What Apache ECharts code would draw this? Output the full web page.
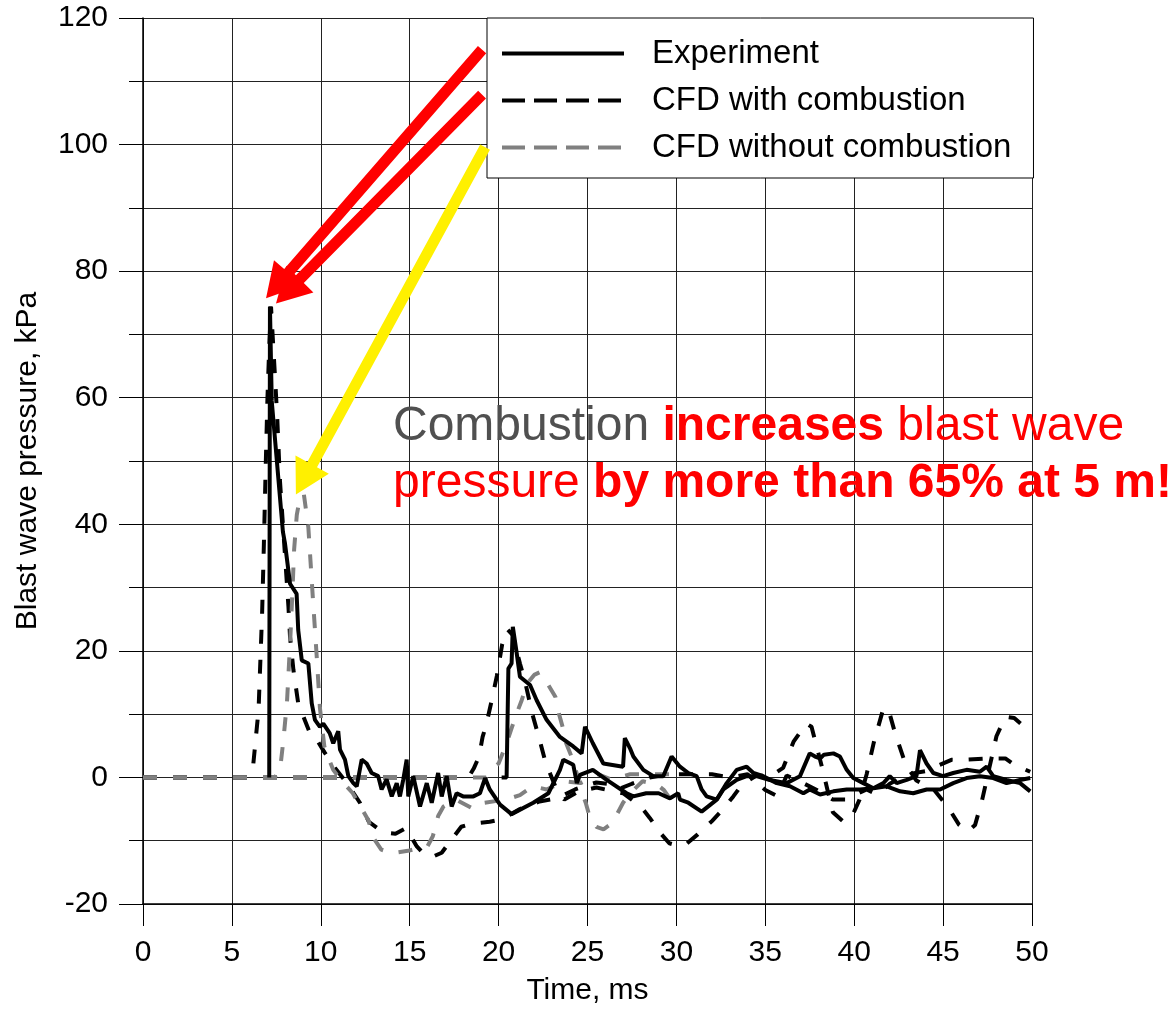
<!DOCTYPE html>
<html><head><meta charset="utf-8">
<script src="https://cdn.jsdelivr.net/npm/echarts@6/dist/echarts.min.js"></script>
<style>html,body{margin:0;padding:0;background:#fff;overflow:hidden}#c{width:1174px;height:1011px}</style>
</head><body><div id="c"></div>
<script>
// ---- data (time ms, pressure kPa) ----
const expNear = [[7.1,0],[7.14,74.4],[7.24,59.5],[7.87,38.8],[7.99,36.9],[8.27,30.6],[8.64,29],[8.73,23.3],[8.93,18.5],[9.3,18],[9.49,11.7],[9.67,9.1],[9.95,8],[10.14,8.5],[10.5,7],[10.7,5.4],[10.98,7.3],[11.08,4.4],[11.36,2.8],[11.55,0.2],[11.83,-0.9],[12.02,-1.4],[12.3,2.8],[12.58,2.2],[12.86,0.7],[13.23,0.2],[13.42,-1.9],[13.7,-0.3],[13.99,-3],[14.27,-0.9],[14.45,-3],[14.64,-0.3],[14.83,2.8],[14.92,-3],[15.2,0.2],[15.58,-4.6],[15.96,-0.9],[16.24,-4],[16.6,0.7],[16.8,-3],[17.08,0.2],[17.36,-4.6],[17.64,-2.5],[18.0,-3],[18.58,-3],[18.95,-2.5],[19.24,-0.1],[19.5,-1.9],[20.08,-4.3],[20.73,-5.8],[21.95,-4],[22.8,-2.5],[23.45,1.2],[23.64,2.8],[24.2,2.0],[24.4,-0.9],[24.58,0.4],[25.3,1.2],[26.08,-0.4],[27.2,-2.5],[27.58,-3],[28.3,-2.5],[29.0,-2.5],[29.64,-3.3],[30.1,-2.5],[30.2,-3.5],[30.67,-4],[31.42,-5.4],[32.27,-3.5],[32.64,-1.9],[33.39,-0.4],[33.95,0.2],[34.5,0.2],[35.26,-0.4],[36.2,-0.9],[36.95,0.2],[37.5,3.8],[37.8,3.3],[38.08,3.0],[38.3,3.6],[38.83,3.8],[39.2,3.3],[39.58,1.2],[39.95,-0.1],[40.51,-0.9],[41.08,-1.7],[41.64,-0.9],[42.0,0.2],[42.39,-0.9],[42.95,-0.4],[43.5,0.2],[43.7,4.3],[44.07,2.2],[44.45,0.7],[45.0,0.2],[45.57,0.7],[46.32,1.2],[47.07,0.9],[47.45,1.7],[47.82,0.2],[48.57,-0.4],[49.33,-0.9],[49.9,-2.2]];
const expFar = [[20.17,0],[20.45,0],[20.55,17.2],[20.73,18],[20.8,23.8],[21.0,20],[21.2,15.9],[21.77,14.6],[22.14,12.2],[22.7,9.1],[23.45,6.4],[24.2,4.9],[24.67,3.8],[24.86,8],[25.3,5.4],[25.89,2.2],[27.0,1.7],[27.1,6.2],[27.39,4.6],[27.58,3.3],[28.14,1.2],[28.7,0.2],[29.26,0.2],[29.73,3.3],[30.2,1.7],[30.67,0.7],[31.14,0.2],[31.42,-1.9],[31.7,-3],[32.27,-3.5],[32.83,-0.9],[33.39,1.2],[33.95,1.7],[34.33,0.7],[34.89,0.2],[35.64,-0.9],[36.39,-1.4],[37.14,-2.5],[37.5,-1.9],[38.08,-2.7],[38.83,-2.2],[39.58,-1.9],[40.33,-1.9],[41.08,-1.7],[41.83,-1.4],[42.58,-2.2],[43.32,-2.5],[44.07,-1.9],[44.83,-1.9],[45.57,-0.9],[46.32,-0.1],[47.07,0.2],[47.82,-0.1],[48.57,-0.9],[49.33,-0.4],[49.9,-0.1]];
const combNear = [[0,0],[5.9,0],[6.2,2],[6.5,10.7],[6.7,26],[6.8,37],[6.9,49],[7.0,60],[7.1,68],[7.2,74.4],[7.45,62],[7.55,56.8],[7.7,47],[8.18,27],[8.27,22.2],[8.46,17],[8.73,11.7],[9.39,7.0],[9.7,6.3],[10.2,4],[10.8,1.5],[11.5,-1],[12.2,-4],[12.7,-7],[13.5,-8.7],[14.2,-8.9],[14.8,-8],[15.4,-10.9],[15.9,-12.4],[16.4,-12.4],[16.8,-11.9],[17.2,-10.4],[17.9,-7.8],[18.5,-7.3],[19.5,-7],[20.2,-6.6],[21.2,-5],[22.3,-3.8],[23.3,-3.3],[24.3,-1.9],[24.8,-1.4],[25.5,-0.8],[26.1,-1],[26.7,-1.9],[27.5,-1],[28.5,0],[29.5,0.5],[31,0.5],[32,0.5],[33,0],[34,0.5],[35,-2],[35.7,-3],[36.2,0.3],[37.2,-1],[37.9,-2],[38.8,-3.5],[39.5,-3.5],[40.7,-1.9],[41.3,-2.7],[42,-1],[43,0.5],[44,1],[45.5,2.8],[46.2,2.8],[47.7,3],[48.5,3],[49,2],[49.9,0.9]];
const combFar = [[0,0],[18.3,0],[18.6,1.4],[18.9,3.3],[19.1,6.4],[19.3,8.3],[19.6,12],[19.9,16],[20.2,21],[20.5,23.4],[20.8,22.5],[21.2,18],[21.5,15],[21.9,10],[22.3,6],[22.6,2.8],[22.9,0.6],[23.3,-2.2],[23.7,-3.5],[24.5,-2.2],[25.5,-1.6],[27,-2.5],[28,-4.6],[28.5,-6.4],[29.1,-8.8],[29.6,-10.4],[30.1,-10.8],[30.6,-10.4],[31.2,-9],[32,-6.9],[32.5,-5.4],[33.2,-3],[33.7,-1.1],[34.5,0.3],[35.3,0.2],[36.0,1.5],[36.6,5.7],[37.3,8.5],[37.6,8],[38.2,1.5],[38.8,-5.5],[39.4,-7],[39.9,-6],[40.3,-3.5],[40.7,0.5],[41.1,5.5],[41.6,10.5],[41.9,11],[42.3,7],[42.9,2],[43.5,-0.5],[44.5,-2],[45.3,-4.8],[45.9,-7.5],[46.4,-8.5],[46.8,-7.5],[47.2,-3.5],[47.6,1.5],[48.0,6.5],[48.5,9.6],[49.0,9.4],[49.4,8.4],[50,7.2]];
const noCombNear = [[0,0],[7.4,0],[7.7,1],[7.9,6],[8.1,12],[8.27,21],[8.4,29],[8.5,36],[8.65,41.5],[8.85,44.5],[9.05,44.7],[9.3,39.5],[9.55,28.5],[9.75,20],[9.95,11],[10.2,4.9],[10.4,3.3],[10.7,1.2],[11.1,-0.3],[11.8,-2.5],[12.7,-6.9],[12.9,-9.3],[13.4,-11.4],[14.0,-12],[14.9,-11.6],[15.5,-11.2],[16.0,-10.9],[16.3,-9.3],[16.6,-6.1],[16.9,-4.6],[17.6,-3.5],[18.6,-5],[19.2,-4],[20.4,-3.5],[21.2,-2.8],[21.9,-1.4],[22.7,-1.9],[23.7,-0.6],[24.6,-0.9],[25.6,0.5],[26.3,-0.3],[27.4,0.5],[28.4,0.5],[29.2,0.5],[29.9,0.5]];
const noCombFar = [[0,0],[19.3,0],[19.5,1],[20.0,2.2],[20.45,5.4],[20.7,7.5],[21.0,10],[21.3,12.2],[21.6,14.8],[22.0,16.2],[22.3,16.6],[22.8,14.6],[23.2,12.7],[23.4,10],[23.6,8],[23.8,5.4],[24.1,3.3],[24.4,0.6],[24.6,-1.7],[24.9,-4],[25.1,-6],[25.5,-7.8],[25.9,-8.2],[26.4,-7.2],[27.0,-4],[27.4,-2.5],[28.1,-0.6],[28.9,-1.1],[29.3,-2],[29.8,-4]];

const legendNames = ['Experiment','CFD with combustion','CFD without combustion'];
// annotation arrows in data units: [tailX, tailY, tipX, tipY]
const arrowsRed = [[19.07,115,6.92,75.7],[19.07,107.9,7.48,74.9]];
const arrowsYellow = [[19.24,99.6,8.6,44.7]];

const FONT = '"Liberation Sans", Arial, sans-serif';
const DASH = [14,16];
const chart = echarts.init(document.getElementById('c'), null, {renderer:'canvas'});

function line(name, data, color, dashed, z){
  return {name, type:'line', data, symbol:'none', showSymbol:false, z,
    lineStyle:{color, width:4, type: dashed ? DASH : 'solid'}, itemStyle:{color}, animation:false};
}
const noSym = {color:'rgba(0,0,0,0)', borderWidth:0, opacity:0};

chart.setOption({
  animation:false,
  backgroundColor:'#fff',
  grid:{left:143, right:142, top:18, bottom:103},
  legend:{
    data:[
      {name:legendNames[0], itemStyle:noSym, lineStyle:{width:4, type:'solid', color:'#000'}},
      {name:legendNames[1], itemStyle:noSym, lineStyle:{width:4, type:[23,9], color:'#000'}},
      {name:legendNames[2], itemStyle:noSym, lineStyle:{width:4, type:[23,9], color:'#808080'}}
    ],
    itemStyle:noSym,
    orient:'vertical', left:487, top:18, itemWidth:122, itemHeight:14, itemGap:14,
    padding:[19,22,14,13], backgroundColor:'#fff', borderColor:'#000', borderWidth:1,
    textStyle:{fontSize:33, fontFamily:FONT, color:'#000', padding:[0,0,0,23]},
    selectedMode:false, z:20
  },
  xAxis:{type:'value', min:0, max:50, interval:5,
    name:'Time, ms', nameLocation:'middle', nameGap:72,
    nameTextStyle:{fontSize:30, fontFamily:FONT, color:'#000'},
    axisLine:{onZero:false, lineStyle:{color:'#000', width:1.5}},
    axisTick:{length:22, lineStyle:{color:'#000', width:1}},
    axisLabel:{margin:34, fontSize:30, fontFamily:FONT, color:'#000'},
    splitLine:{show:true, lineStyle:{color:'#222', width:1}}
  },
  yAxis:{type:'value', min:-20, max:120, interval:20,
    name:'Blast wave pressure, kPa', nameLocation:'middle', nameGap:100,
    nameTextStyle:{fontSize:30, fontFamily:FONT, color:'#000'},
    axisLine:{onZero:false, lineStyle:{color:'#000', width:1.5}},
    axisTick:{length:24, lineStyle:{color:'#000', width:1}},
    minorTick:{show:true, splitNumber:2, length:14, lineStyle:{color:'#000', width:1}},
    minorSplitLine:{show:true, lineStyle:{color:'#222', width:1}},
    axisLabel:{margin:35, fontSize:30, fontFamily:FONT, color:'#000'},
    splitLine:{show:true, lineStyle:{color:'#222', width:1}}
  },
  series:[
    line('CFD with combustion', combNear, '#000', true, 2),
    line('CFD with combustion (far)', combFar, '#000', true, 2),
    line('CFD without combustion', noCombNear, '#808080', true, 3),
    line('CFD without combustion (far)', noCombFar, '#808080', true, 3),
    line('Experiment', expNear, '#000', false, 4),
    line('Experiment (far)', expFar, '#000', false, 4)
  ]
});

function arrowPoly(a, shaft, headL, headW){
  const p1 = chart.convertToPixel({gridIndex:0}, [a[0],a[1]]);
  const p2 = chart.convertToPixel({gridIndex:0}, [a[2],a[3]]);
  const dx=p2[0]-p1[0], dy=p2[1]-p1[1], L=Math.hypot(dx,dy);
  const ux=dx/L, uy=dy/L, nx=-uy, ny=ux;
  const bx=p2[0]-ux*headL, by=p2[1]-uy*headL;
  const s=shaft/2, h=headW/2;
  return [[p1[0]+nx*s,p1[1]+ny*s],[bx+nx*s,by+ny*s],[bx+nx*h,by+ny*h],[p2[0],p2[1]],
          [bx-nx*h,by-ny*h],[bx-nx*s,by-ny*s],[p1[0]-nx*s,p1[1]-ny*s]];
}
const graphics = [];
arrowsRed.forEach(a=>graphics.push({type:'polygon', z:30, shape:{points:arrowPoly(a,11,34,38)}, style:{fill:'#ff0000'}}));
arrowsYellow.forEach(a=>graphics.push({type:'polygon', z:30, shape:{points:arrowPoly(a,11,34,38)}, style:{fill:'#fff000'}}));
graphics.push({type:'text', z:30, left:393, top:403, style:{
  text:'{g|Combustion }{rb|increases}{r| blast wave}\n{r|pressure }{rb|by more than 65% at 5 m!}',
  rich:{
    g:{fontSize:48, fontFamily:FONT, fill:'#505050', color:'#505050', lineHeight:57},
    r:{fontSize:48, fontFamily:FONT, fill:'#ff0000', color:'#ff0000', lineHeight:57},
    rb:{fontSize:48, fontFamily:FONT, fill:'#ff0000', color:'#ff0000', fontWeight:'bold', lineHeight:57}
  }
}});
chart.setOption({graphic:graphics});
</script>
</body></html>
